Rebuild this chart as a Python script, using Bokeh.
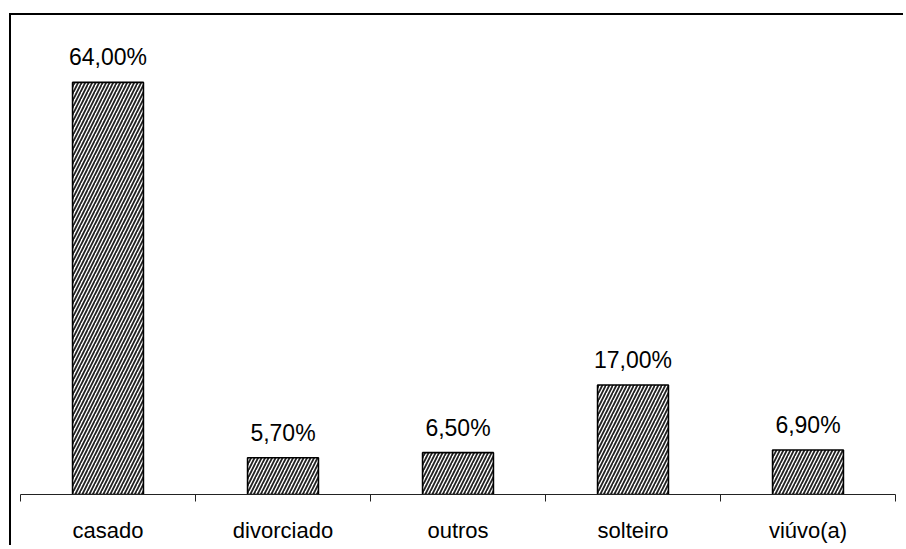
from bokeh.plotting import figure
from bokeh.models import ColumnDataSource, Range1d, LinearAxis, FixedTicker
from bokeh.core.properties import value
from bokeh.embed import file_html
from bokeh.resources import INLINE

categories = ["casado", "divorciado", "outros", "solteiro", "viúvo(a)"]
percentages = [64.0, 5.7, 6.5, 17.0, 6.9]
value_labels = ["64,00%", "5,70%", "6,50%", "17,00%", "6,90%"]

FONT = "Liberation Sans"
n = len(categories)
centers = [i + 0.5 for i in range(n)]

source = ColumnDataSource(data=dict(x=centers, pct=percentages, lab=value_labels))

p = figure(
    x_range=Range1d(0, n),
    y_range=Range1d(0, 73.3),
    width=894, height=532,
    output_backend="svg",
    toolbar_location=None,
    min_border_left=9, min_border_right=10,
    min_border_top=7, min_border_bottom=53,
    x_axis_location=None, y_axis_location=None,
)
# chart-area border: only the top and left edges are visible in the reference
p.styles = {
    "margin-left": "11px",
    "margin-top": "15px",
    "box-shadow": "-2px -2px 0px 0px black",
}
p.outline_line_color = None
p.xgrid.visible = False
p.ygrid.visible = False
p.background_fill_color = "white"
p.border_fill_color = "white"

p.vbar(x="x", top="pct", bottom=0, width=0.405, source=source,
       fill_color="white", line_color="black", line_width=1.6,
       hatch_pattern="/", hatch_color="#222222", hatch_scale=7, hatch_weight=1.8)

p.text(x="x", y="pct", text="lab", source=source,
       text_font=value(FONT), text_font_size="23px", text_color="black",
       text_align="center", text_baseline="alphabetic", y_offset=-25)

# boundary tick axis (axis line + tick marks between categories)
tick_axis = LinearAxis(ticker=FixedTicker(ticks=list(range(n + 1))),
                       major_label_overrides={i: "" for i in range(n + 1)})
tick_axis.axis_line_color = "#222222"
tick_axis.axis_line_width = 1
tick_axis.major_tick_in = 0
tick_axis.major_tick_out = 7
tick_axis.major_tick_line_color = "#222222"
tick_axis.minor_tick_line_color = None
tick_axis.major_label_text_font_size = "1px"
tick_axis.major_label_standoff = 0
p.add_layout(tick_axis, "below")

# category label axis
cat_axis = LinearAxis(ticker=FixedTicker(ticks=centers),
                      major_label_overrides={c: lab for c, lab in zip(centers, categories)})
cat_axis.axis_line_color = None
cat_axis.major_tick_line_color = None
cat_axis.minor_tick_line_color = None
cat_axis.major_label_text_font = FONT
cat_axis.major_label_text_font_size = "22px"
cat_axis.major_label_text_color = "black"
cat_axis.major_label_standoff = 10
p.add_layout(cat_axis, "below")

open("out.html", "w").write(file_html(p, INLINE))
